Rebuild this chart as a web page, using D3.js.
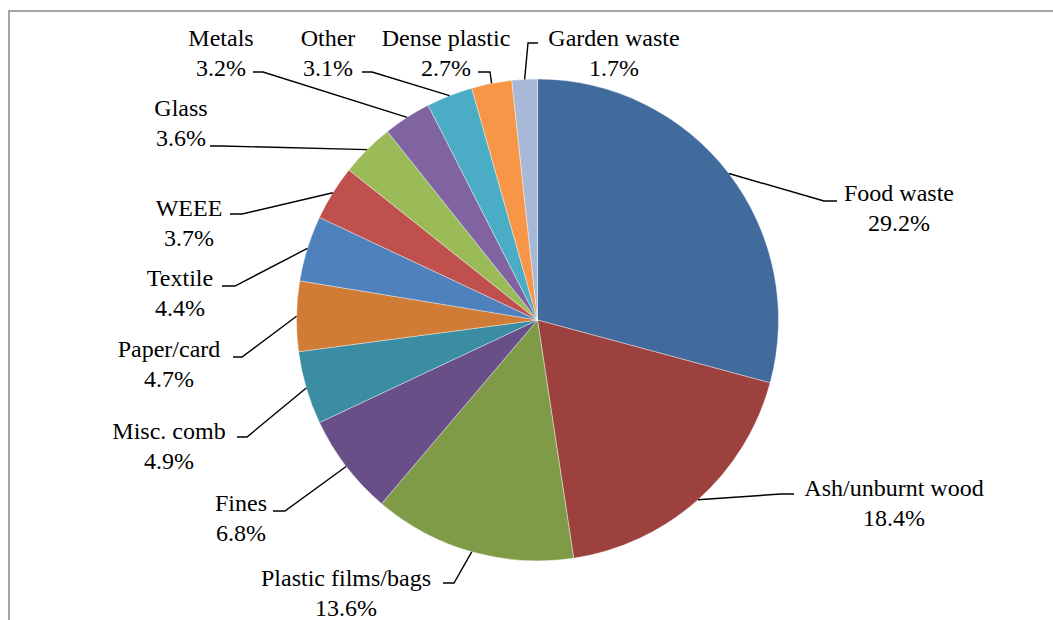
<!DOCTYPE html>
<html>
<head>
<meta charset="utf-8">
<script src="https://cdn.jsdelivr.net/npm/d3@7"></script>
<style>
  html, body { margin: 0; padding: 0; background: #fff; }
  svg { display: block; }
</style>
</head>
<body>
<svg id="chart" width="1053" height="620"></svg>
<script>
// Waste composition, clockwise from 12 o'clock
const categories = ["Food waste", "Ash/unburnt wood", "Plastic films/bags", "Fines", "Misc. comb",
  "Paper/card", "Textile", "WEEE", "Glass", "Metals", "Other", "Dense plastic", "Garden waste"];
const shares = [29.2, 18.4, 13.6, 6.8, 4.9, 4.7, 4.4, 3.7, 3.6, 3.2, 3.1, 2.7, 1.7];
const sliceColors = ["#416A9D", "#9C413E", "#7F9B48", "#684F88", "#3A8DA3", "#D07C36",
  "#4F81BD", "#C0504D", "#9BBB59", "#8064A2", "#4BACC6", "#F79646", "#A8B9D8"];

const svg = d3.select("#chart");
const W = 1053, H = 620;
const cx = 537.5, cy = 320, R = 241;

// outer frame (runs off the right and bottom edges)
svg.append("rect")
  .attr("x", 9).attr("y", 11).attr("width", W + 20).attr("height", H + 20)
  .attr("fill", "none").attr("stroke", "#a6a6a6").attr("stroke-width", 2);

const pie = d3.pie().value(d => d).sort(null);
const arcs = pie(shares);
const arc = d3.arc().innerRadius(0).outerRadius(R);
const edge = d3.arc().innerRadius(R).outerRadius(R);

const g = svg.append("g").attr("transform", `translate(${cx},${cy})`);
g.selectAll("path.slice").data(arcs).join("path")
  .attr("class", "slice")
  .attr("d", arc)
  .attr("fill", (d, i) => sliceColors[i])
  .attr("stroke", "rgba(255,255,255,0.55)")
  .attr("stroke-width", 0.7);

// label placement: text centre x, first-line centre y, leader elbow and label-side end
const layout = {
  "Food waste":         { tx: 899, ty: 193, elbow: [824, 201], end: [837, 201] },
  "Ash/unburnt wood":   { tx: 894, ty: 488, elbow: [781, 494], end: [794, 494] },
  "Plastic films/bags": { tx: 346, ty: 578, elbow: [454, 583], end: [443, 583] },
  "Fines":              { tx: 241, ty: 503, elbow: [285, 511], end: [273, 511] },
  "Misc. comb":         { tx: 169, ty: 431, elbow: [247, 437], end: [237, 437] },
  "Paper/card":         { tx: 169, ty: 349, elbow: [242, 357], end: [233, 357] },
  "Textile":            { tx: 180, ty: 278, elbow: [235, 286], end: [222, 286] },
  "WEEE":               { tx: 189, ty: 208, elbow: [242, 214], end: [230, 214] },
  "Glass":              { tx: 181, ty: 108, elbow: [222, 146], end: [210, 146] },
  "Metals":             { tx: 221, ty: 38,  elbow: [263, 72],  end: [253, 72] },
  "Other":              { tx: 328, ty: 38,  elbow: [372, 72],  end: [362, 72] },
  "Dense plastic":      { tx: 446, ty: 38,  elbow: [490, 72],  end: [478, 72] },
  "Garden waste":       { tx: 614, ty: 38,  elbow: [528, 43],  end: [538, 43] }
};
const lineGap = 30;

const leaders = svg.append("g");
arcs.forEach((a, i) => {
  const L = layout[categories[i]];
  const [ex, ey] = edge.centroid(a);
  leaders.append("polyline")
    .attr("points", [[cx + ex, cy + ey], L.elbow, L.end].map(p => p.join(",")).join(" "))
    .attr("fill", "none").attr("stroke", "#000").attr("stroke-width", 1.4);
});

// two-line labels: category name over its share
arcs.forEach((a, i) => {
  const L = layout[categories[i]];
  [categories[i], shares[i].toFixed(1) + "%"].forEach((s, k) => {
    svg.append("text")
      .attr("x", L.tx)
      .attr("y", L.ty + k * lineGap + 8)
      .attr("text-anchor", "middle")
      .style("font-family", "Times New Roman")
      .style("font-size", "24px")
      .text(s);
  });
});
</script>
</body>
</html>
